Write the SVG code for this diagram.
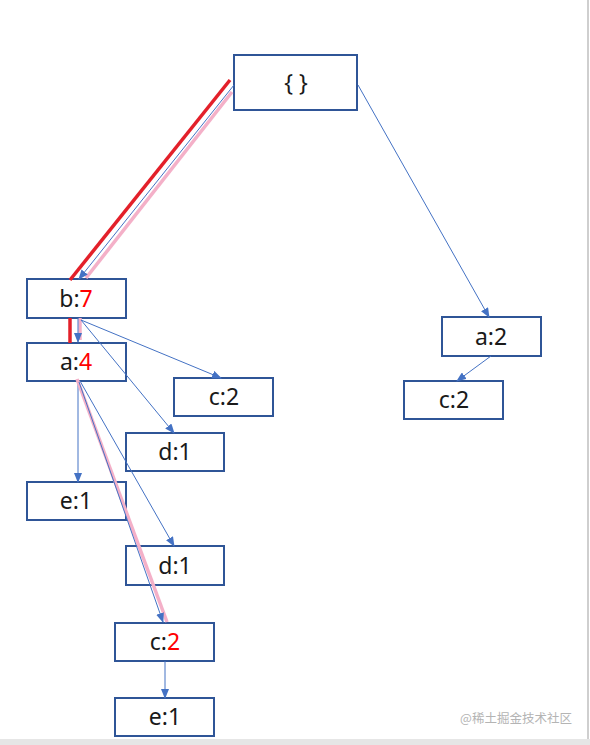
<svg xmlns="http://www.w3.org/2000/svg" width="590" height="745" viewBox="0 0 590 745">
<style>
.box{fill:#fff;stroke:#2F5597;stroke-width:2}
.lbl{font-family:"Noto Sans","Liberation Sans",sans-serif;font-size:23px;fill:#1a1a1a;text-anchor:middle}
.red{fill:#FF0000}
.edge{stroke:#4472C4;stroke-width:1;fill:none;marker-end:url(#ah)}
.hl-red{stroke:#E3202A;stroke-width:3.5;fill:none}
.hl-pink{stroke:#F4B0C8;stroke-width:3.5;fill:none}
</style>
<defs>
<marker id="ah" markerWidth="10" markerHeight="8" refX="9" refY="4" orient="auto" markerUnits="userSpaceOnUse">
<path d="M0,0 L10,4 L0,8 Z" fill="#4472C4"/>
</marker>
</defs>
<rect width="590" height="745" fill="#fff"/>
<rect x="0" y="739" width="590" height="6" fill="#e6e6e6"/>
<line x1="588" y1="0" x2="588" y2="739" stroke="#cfcfcf" stroke-width="2"/>

<g id="root"><rect class="box" x="234" y="55" width="123" height="55"/><text class="lbl" x="296" y="91">{ }</text></g>
<g id="b7"><rect class="box" x="27" y="279" width="99" height="39"/><text class="lbl" x="76" y="307">b:<tspan class="red">7</tspan></text></g>
<g id="a4"><rect class="box" x="27" y="343" width="99" height="38"/><text class="lbl" x="76" y="370">a:<tspan class="red">4</tspan></text></g>
<g id="c2a"><rect class="box" x="174" y="378" width="99" height="38"/><text class="lbl" x="224" y="405">c:2</text></g>
<g id="d1a"><rect class="box" x="126" y="433" width="98" height="38"/><text class="lbl" x="175" y="460">d:1</text></g>
<g id="e1a"><rect class="box" x="27" y="482" width="99" height="38"/><text class="lbl" x="76" y="509">e:1</text></g>
<g id="d1b"><rect class="box" x="126" y="546" width="98" height="39"/><text class="lbl" x="175" y="574">d:1</text></g>
<g id="c2b"><rect class="box" x="115" y="623" width="99" height="38"/><text class="lbl" x="165" y="650">c:<tspan class="red">2</tspan></text></g>
<g id="e1b"><rect class="box" x="115" y="698" width="99" height="38"/><text class="lbl" x="165" y="725">e:1</text></g>
<g id="a2"><rect class="box" x="442" y="317" width="99" height="39"/><text class="lbl" x="491" y="345">a:2</text></g>
<g id="c2c"><rect class="box" x="404" y="381" width="99" height="38"/><text class="lbl" x="454" y="408">c:2</text></g>

<g id="connectors">
<line class="hl-red" x1="230" y1="80" x2="70" y2="280"/>
<line class="hl-pink" x1="232" y1="92" x2="86" y2="278"/>
<line class="edge" x1="234" y1="85" x2="79" y2="279"/>
<line class="edge" x1="358" y1="85" x2="489" y2="317"/>
<line class="hl-red" x1="70" y1="318" x2="70" y2="343"/>
<line class="hl-pink" x1="80" y1="318" x2="80" y2="340"/>
<line class="edge" x1="78" y1="318" x2="78" y2="342"/>
<line class="edge" x1="81" y1="320" x2="221" y2="378"/>
<line class="edge" x1="81" y1="320" x2="174" y2="433"/>
<line class="edge" x1="78" y1="381" x2="78" y2="482"/>
<line class="edge" x1="80" y1="381" x2="174" y2="546"/>
<line class="hl-pink" x1="77" y1="379" x2="167" y2="622"/>
<line class="edge" x1="79" y1="382" x2="163" y2="622"/>
<line class="edge" x1="165" y1="661" x2="165" y2="698"/>
<line class="edge" x1="491" y1="356" x2="457" y2="381"/>
</g>

<text x="516" y="723" font-family="'Noto Sans CJK SC',sans-serif" font-size="12.5" fill="#b4b4b4" text-anchor="middle">@稀土掘金技术社区</text>
</svg>
